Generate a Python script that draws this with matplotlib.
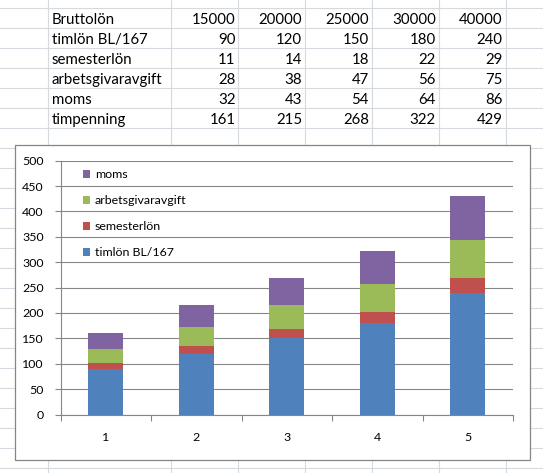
import matplotlib
matplotlib.use("Agg")
import matplotlib.pyplot as plt
from matplotlib.lines import Line2D
from matplotlib.patches import Rectangle, Patch

# ---- data ----
row_labels = ["Bruttolön", "timlön BL/167", "semesterlön", "arbetsgivaravgift", "moms", "timpenning"]
brutto = [15000, 20000, 25000, 30000, 40000]
timlon = [90, 120, 150, 180, 240]
semester = [11, 14, 18, 22, 29]
arbetsgivar = [28, 38, 47, 56, 75]
moms = [32, 43, 54, 64, 86]
timpenning = [161, 215, 268, 322, 429]
categories = [1, 2, 3, 4, 5]
series_names = ["timlön BL/167", "semesterlön", "arbetsgivaravgift", "moms"]
series_values = [timlon, semester, arbetsgivar, moms]
series_colors = ["#4F81BD", "#C0504D", "#9BBB59", "#8064A2"]
yticks = [0, 50, 100, 150, 200, 250, 300, 350, 400, 450, 500]

W, H = 543, 473
plt.rcParams['font.family'] = ['Lato', 'DejaVu Sans']
fig = plt.figure(figsize=(W / 100, H / 100), dpi=100)
fig.patch.set_facecolor("white")

def fx(px):
    return px / W

def fy(py):
    return 1 - py / H

grid_col = "#D5D9E0"
# spreadsheet grid
col_lines = [48.3, 171, 237.5, 304.5, 371.5, 439, 505.5]
for x in col_lines:
    fig.add_artist(Line2D([fx(x), fx(x)], [0, 1], color=grid_col, lw=0.8, zorder=0))
y = 8.3
while y < H:
    fig.add_artist(Line2D([0, 1], [fy(y), fy(y)], color=grid_col, lw=0.8, zorder=0))
    y += 20

# table text
table_rows = [brutto, timlon, semester, arbetsgivar, moms, timpenning]
num_right = [235.5, 302, 369, 435.8, 502.8]
tfs = 10.8
for i, (lab, vals) in enumerate(zip(row_labels, table_rows)):
    base = 24.2 + 20 * i
    fig.text(fx(51.7), fy(base), lab, ha="left", va="baseline", fontsize=tfs, color="black")
    for xr, v in zip(num_right, vals):
        fig.text(fx(xr), fy(base), str(v), ha="right", va="baseline", fontsize=tfs, color="black")

# chart area box
fig.add_artist(Rectangle((fx(14.7), fy(460)), fx(530) - fx(14.7), fy(145.3) - fy(460),
                         facecolor="white", edgecolor="#868686", lw=0.9, zorder=1))

# plot area
left, right, top, bottom = 60.5, 513, 160.7, 414.5
ax = fig.add_axes([fx(left), fy(bottom), fx(right) - fx(left), fy(top) - fy(bottom)], zorder=2)
ax.set_facecolor("none")

bw = 0.39
bottoms = [0] * len(categories)
for name, vals, col in zip(series_names, series_values, series_colors):
    ax.bar(categories, vals, width=bw, bottom=bottoms, color=col, label=name, zorder=3, linewidth=0)
    bottoms = [bo + v for bo, v in zip(bottoms, vals)]

ax.set_xlim(0.5, 5.5)
ax.set_ylim(0, 500)
ax.set_yticks(yticks)
ax.yaxis.grid(True, color="#868686", lw=0.8, zorder=0)
ax.set_axisbelow(True)
for s in ["top", "right"]:
    ax.spines[s].set_visible(False)
for s in ["left", "bottom"]:
    ax.spines[s].set_color("#868686")
    ax.spines[s].set_linewidth(0.8)

cfs = 8.9
ax.set_xticks([0.5, 1.5, 2.5, 3.5, 4.5, 5.5])
ax.set_xticklabels([])
ax.set_xticks(categories, minor=True)
ax.set_xticklabels([str(c) for c in categories], minor=True)
ax.tick_params(axis="x", which="major", direction="out", length=4, color="#868686", width=0.8)
ax.tick_params(axis="x", which="minor", length=0, pad=12.5, labelsize=cfs)
ax.tick_params(axis="y", direction="out", length=4, color="#868686", width=0.8, pad=8, labelsize=cfs)

handles = [Patch(facecolor=c, edgecolor="none") for c in series_colors][::-1]
labels = series_names[::-1]
ax.legend(handles, labels, loc="upper left", bbox_to_anchor=(22 / (right - left), 1 - 8.5 / (bottom - top)),
          frameon=False, fontsize=cfs, handlelength=0.6, handleheight=0.6,
          handletextpad=0.4, labelspacing=1.22, borderpad=0, borderaxespad=0)

fig.savefig("out.png", dpi=100)
